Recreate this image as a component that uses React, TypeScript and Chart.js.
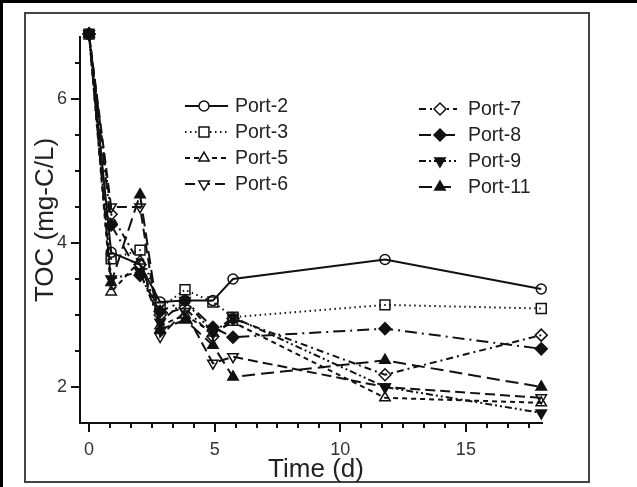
import React, { useEffect, useRef } from 'react';
import { Chart, registerables } from 'chart.js';
import { drawPoint } from 'chart.js/helpers';

Chart.register(...registerables);

const times = [0, 0.88, 2.03, 2.83, 3.82, 4.93, 5.73, 11.78, 18.0];
const port2 = [6.9, 3.87, 3.7, 3.18, 3.2, 3.2, 3.5, 3.77, 3.36];
const port3 = [6.9, 3.78, 3.9, 3.1, 3.35, 3.18, 2.97, 3.14, 3.09];
const port5 = [6.9, 3.32, 3.75, 2.85, 3.0, 2.75, 2.9, 1.85, 1.78];
const port6 = [6.9, 4.5, 4.5, 2.7, 3.05, 2.33, 2.42, 2.0, 1.85];
const port7 = [6.9, 4.4, 3.7, 3.0, 3.1, 2.7, 2.95, 2.17, 2.72];
const port8 = [6.9, 4.25, 3.55, 3.05, 3.2, 2.83, 2.69, 2.81, 2.53];
const port9 = [6.9, 3.5, 3.6, 2.9, 3.2, 2.75, 2.97, 2.0, 1.64];
const port11 = [6.9, 3.45, 4.67, 2.8, 2.93, 2.58, 2.14, 2.37, 2.0];

const seriesNames = ['Port-2', 'Port-3', 'Port-5', 'Port-6', 'Port-7', 'Port-8', 'Port-9', 'Port-11'];
const xMajorTicks = [0, 5, 10, 15];
const yMajorTicks = [2, 4, 6];
const xTitle = 'Time (d)';
const yTitle = 'TOC (mg-C/L)';

const FONT = "'Liberation Sans', Arial, sans-serif";

export default function App() {
  const ref = useRef<HTMLCanvasElement>(null);

  useEffect(() => {
    const values = [port2, port3, port5, port6, port7, port8, port9, port11];
    const styles = [
      { dash: [], ps: 'circle', rot: 0, fill: false, r: 5 },
      { dash: [1.5, 3.5], ps: 'rect', rot: 0, fill: false, r: 7 },
      { dash: [5, 4], ps: 'triangle', rot: 0, fill: false, r: 6 },
      { dash: [10, 5], ps: 'triangle', rot: 180, fill: false, r: 6 },
      { dash: [7, 4, 2, 4], ps: 'rectRot', rot: 0, fill: false, r: 6 },
      { dash: [12, 5, 2, 5], ps: 'rectRot', rot: 0, fill: true, r: 6 },
      { dash: [7, 3, 2, 3, 2, 3], ps: 'triangle', rot: 180, fill: true, r: 6 },
      { dash: [13, 6], ps: 'triangle', rot: 0, fill: true, r: 6 },
    ];

    const datasets = seriesNames.map((name, i) => ({
      label: name,
      data: times.map((t, j) => ({ x: t, y: values[i][j] })),
      borderColor: '#111',
      backgroundColor: styles[i].fill ? '#111' : 'rgba(0,0,0,0)',
      borderWidth: 2,
      borderDash: styles[i].dash,
      pointStyle: styles[i].ps,
      pointRotation: styles[i].rot,
      pointRadius: styles[i].r,
      pointBorderWidth: 1.5,
      pointBorderColor: '#111',
      pointBackgroundColor: styles[i].fill ? '#111' : 'rgba(0,0,0,0)',
      tension: 0,
      clip: false as any,
    }));

    const framePlugin = {
      id: 'frame',
      beforeDraw(chart: any) {
        const ctx = chart.ctx;
        ctx.save();
        ctx.fillStyle = '#fff';
        ctx.fillRect(0, 0, chart.width, chart.height);
        ctx.fillStyle = '#000';
        ctx.fillRect(0, 0, chart.width, 3);
        ctx.fillRect(0, 0, 3, chart.height);
        ctx.strokeStyle = '#444';
        ctx.lineWidth = 2;
        ctx.strokeRect(25, 13, 564, 469);
        ctx.restore();
      },
      afterDraw(chart: any) {
        const ctx = chart.ctx;
        const xs = chart.scales.x;
        const ys = chart.scales.y;
        const area = chart.chartArea;
        ctx.save();
        ctx.strokeStyle = '#111';
        ctx.lineWidth = 2;
        ctx.setLineDash([]);
        for (let k = 0; k * 5 / 6 <= xs.max + 1e-6; k++) {
          const v = (k * 5) / 6;
          const px = Math.round(xs.getPixelForValue(v));
          const major = k % 6 === 0;
          ctx.beginPath();
          ctx.moveTo(px, area.bottom);
          ctx.lineTo(px, area.bottom + (major ? 9 : 5));
          ctx.stroke();
        }
        for (let v = 2; v <= ys.max + 1e-6; v += 0.5) {
          const py = Math.round(ys.getPixelForValue(v));
          const major = Math.abs(v % 2) < 1e-6;
          ctx.beginPath();
          ctx.moveTo(area.left, py);
          ctx.lineTo(area.left - (major ? 9 : 5), py);
          ctx.stroke();
        }
        ctx.fillStyle = '#222';
        ctx.font = `26px ${FONT}`;
        ctx.textAlign = 'center';
        ctx.textBaseline = 'alphabetic';
        ctx.fillText(xTitle, 316, 477);
        ctx.save();
        ctx.translate(53, 220);
        ctx.rotate(-Math.PI / 2);
        ctx.fillText(yTitle, 0, 0);
        ctx.restore();

        const cols = [
          { x0: 185, x1: 228, mx: 204, tx: 235, ys: [106, 132, 158, 184] },
          { x0: 419, x1: 457, mx: 440, tx: 468, ys: [109, 135, 161, 187] },
        ];
        ctx.font = `19.5px ${FONT}`;
        ctx.textAlign = 'left';
        ctx.textBaseline = 'middle';
        chart.data.datasets.forEach((ds: any, i: number) => {
          const col = cols[i < 4 ? 0 : 1];
          const y = col.ys[i % 4];
          ctx.strokeStyle = '#111';
          ctx.lineWidth = 2;
          ctx.setLineDash(ds.borderDash || []);
          ctx.beginPath();
          ctx.moveTo(col.x0, y);
          ctx.lineTo(col.x1, y);
          ctx.stroke();
          ctx.setLineDash([]);
          ctx.fillStyle = ds.pointBackgroundColor === '#111' ? '#111' : '#fff';
          ctx.lineWidth = 1.5;
          drawPoint(ctx, { pointStyle: ds.pointStyle, rotation: ds.pointRotation, radius: ds.pointRadius, borderWidth: 1.5 } as any, col.mx, y);
          ctx.fillStyle = '#222';
          ctx.fillText(ds.label, col.tx, y + 1);
        });
        ctx.restore();
      },
    };

    const chart = new Chart(ref.current as HTMLCanvasElement, {
      type: 'line',
      data: { datasets: datasets as any },
      options: {
        responsive: false,
        devicePixelRatio: 1,
        animation: false,
        layout: { padding: { left: 0, top: 37, right: 95, bottom: 0 } },
        plugins: { legend: { display: false }, tooltip: { enabled: false } },
        scales: {
          x: {
            type: 'linear',
            min: -0.36,
            max: 18.03,
            afterBuildTicks: (s: any) => {
              s.ticks = xMajorTicks.map((v) => ({ value: v }));
            },
            afterFit: (s: any) => {
              s.height = 64;
            },
            grid: { display: false, drawTicks: false },
            border: { display: true, color: '#111', width: 2 },
            ticks: {
              padding: 16,
              color: '#333',
              font: { family: FONT, size: 18 },
              maxRotation: 0,
              autoSkip: false,
            },
          },
          y: {
            type: 'linear',
            min: 1.5,
            max: 6.86,
            afterBuildTicks: (s: any) => {
              s.ticks = yMajorTicks.map((v) => ({ value: v }));
            },
            afterFit: (s: any) => {
              s.width = 80;
            },
            grid: { display: false, drawTicks: false },
            border: { display: true, color: '#111', width: 2 },
            ticks: {
              padding: 13,
              color: '#333',
              font: { family: FONT, size: 18 },
              autoSkip: false,
            },
          },
        },
      },
      plugins: [framePlugin],
    });
    return () => chart.destroy();
  }, []);

  return (
    <div style={{ position: 'fixed', left: 0, top: 0, width: 637, height: 487, background: '#fff' }}>
      <canvas ref={ref} width={637} height={487} style={{ display: 'block', width: 637, height: 487 }} />
    </div>
  );
}
